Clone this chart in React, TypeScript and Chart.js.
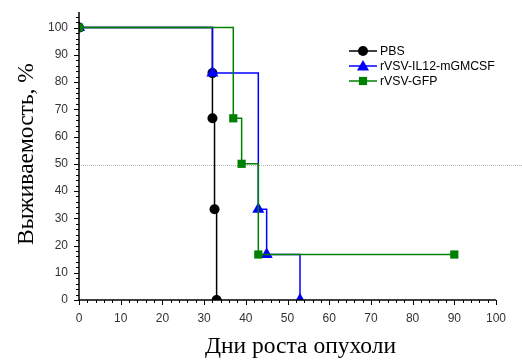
import React, { useEffect, useRef } from 'react';
import { Chart, registerables } from 'chart.js';

Chart.register(...registerables);

// ---- data ----
const seriesNames = ['PBS', 'rVSV-IL12-mGMCSF', 'rVSV-GFP'];
const pbsDays = [0, 32, 32, 32.5, 33];
const pbsSurvival = [100, 83.3, 66.7, 33.3, 0];
const il12Days = [0, 32, 43, 45, 53];
const il12Survival = [100, 83.3, 33.3, 16.7, 0];
const gfpDays = [0, 37, 39, 43, 90];
const gfpSurvival = [100, 66.7, 50, 16.7, 16.7];
const xTickLabels = [0, 10, 20, 30, 40, 50, 60, 70, 80, 90, 100];
const yTickLabels = [0, 10, 20, 30, 40, 50, 60, 70, 80, 90, 100];
const xMinorTicks = Array.from({ length: 51 }, (_, i) => i * 2);
const yMinorTicks = Array.from({ length: 53 }, (_, i) => i * 2);
const referenceLevel = 49.5;
const xTitle = 'Дни роста опухоли';
const yTitle = 'Выживаемость, %';

const colors = ['#000000', '#0000ff', '#008000'];
const pointStyles = ['circle', 'triangle', 'rect'];
const pointRadii = [5, 7, 5.8];

const toPoints = (xs: number[], ys: number[]) => xs.map((x, i) => ({ x, y: ys[i] }));

function drawMarker(ctx: CanvasRenderingContext2D, style: string, x: number, y: number, r: number, color: string) {
  ctx.save();
  ctx.fillStyle = color;
  ctx.beginPath();
  if (style === 'circle') {
    ctx.arc(x, y, r, 0, Math.PI * 2);
  } else if (style === 'triangle') {
    for (let k = 0; k < 3; k++) {
      const a = (k * 2 * Math.PI) / 3;
      const px = x + Math.sin(a) * r;
      const py = y - Math.cos(a) * r;
      if (k === 0) ctx.moveTo(px, py);
      else ctx.lineTo(px, py);
    }
    ctx.closePath();
  } else {
    const s = r * Math.SQRT1_2;
    ctx.rect(x - s, y - s, 2 * s, 2 * s);
  }
  ctx.fill();
  ctx.restore();
}

const customPlugin = {
  id: 'customDecor',
  beforeDatasetsDraw(chart: any) {
    const { ctx, chartArea, scales } = chart;
    const py = Math.round(scales.y.getPixelForValue(referenceLevel)) + 0.5;
    ctx.save();
    ctx.strokeStyle = '#b5b5b5';
    ctx.lineWidth = 1;
    ctx.setLineDash([1, 1]);
    ctx.beginPath();
    ctx.moveTo(chartArea.left, py);
    ctx.lineTo(chart.width, py);
    ctx.stroke();
    ctx.restore();
  },
  afterDatasetsDraw(chart: any) {
    const { ctx, chartArea, scales } = chart;
    const xs = scales.x;
    const ys = scales.y;
    const left = chartArea.left;
    const bottom = chartArea.bottom;
    ctx.save();
    ctx.strokeStyle = '#000';
    ctx.lineWidth = 1.5;
    ctx.beginPath();
    ctx.moveTo(left, chartArea.top - 2);
    ctx.lineTo(left, bottom);
    ctx.lineTo(xs.getPixelForValue(100), bottom);
    ctx.stroke();
    ctx.lineWidth = 1;
    ctx.beginPath();
    xMinorTicks.forEach((v) => {
      const px = Math.round(xs.getPixelForValue(v)) + 0.5;
      const len = v % 10 === 0 ? 5 : 3;
      ctx.moveTo(px, bottom);
      ctx.lineTo(px, bottom + len);
    });
    yMinorTicks.forEach((v) => {
      const py = Math.round(ys.getPixelForValue(v)) + 0.5;
      const len = v % 10 === 0 ? 5 : 3;
      ctx.moveTo(left, py);
      ctx.lineTo(left - len, py);
    });
    ctx.stroke();

    // axis titles
    ctx.fillStyle = '#000';
    ctx.font = '23.5px "Liberation Serif", "Times New Roman", serif';
    ctx.textAlign = 'center';
    ctx.textBaseline = 'middle';
    ctx.fillText(xTitle, (chartArea.left + chartArea.right) / 2 + 13, 347);
    ctx.save();
    ctx.translate(27, 154);
    ctx.rotate(-Math.PI / 2);
    ctx.fillText(yTitle, 0, 0);
    ctx.restore();

    // legend
    const lx = 349;
    const ly0 = 51;
    ctx.font = '12.3px "Liberation Sans", Arial, sans-serif';
    ctx.textAlign = 'left';
    ctx.textBaseline = 'middle';
    seriesNames.forEach((name, i) => {
      const ly = ly0 + i * 15;
      ctx.strokeStyle = colors[i];
      ctx.lineWidth = 1.5;
      ctx.beginPath();
      ctx.moveTo(lx, ly);
      ctx.lineTo(lx + 28, ly);
      ctx.stroke();
      drawMarker(ctx, pointStyles[i], lx + 14, pointStyles[i] === 'triangle' ? ly + 1 : ly, pointRadii[i], colors[i]);
      ctx.fillStyle = '#000';
      ctx.fillText(name, lx + 31, ly + 0.5);
    });
    ctx.restore();
  },
};

export default function App() {
  const ref = useRef<HTMLCanvasElement>(null);
  useEffect(() => {
    if (!ref.current) return;
    const seriesData = [
      toPoints(pbsDays, pbsSurvival),
      toPoints(il12Days, il12Survival),
      toPoints(gfpDays, gfpSurvival),
    ];
    const chart = new Chart(ref.current, {
      type: 'line',
      data: {
        datasets: seriesNames.map((name, i) => ({
          label: name,
          data: seriesData[i],
          borderColor: colors[i],
          backgroundColor: colors[i],
          borderWidth: 1.5,
          pointStyle: pointStyles[i] as any,
          pointRadius: pointRadii[i],
          pointBorderWidth: 0,
          pointHoverRadius: pointRadii[i],
          stepped: 'before' as any,
          fill: false,
          clip: 0 as any,
          order: 3 - i,
        })),
      },
      options: {
        responsive: false,
        animation: false,
        layout: { padding: { top: 14, right: 26, left: 0, bottom: 0 } },
        plugins: { legend: { display: false }, tooltip: { enabled: false } },
        scales: {
          x: {
            type: 'linear',
            min: 0,
            max: 100,
            grid: { display: false, drawTicks: false },
            border: { display: false },
            afterFit: (s: any) => {
              s.height = 60;
              s.paddingLeft = 0;
              s.paddingRight = 0;
            },
            afterBuildTicks: (s: any) => { s.ticks = xTickLabels.map((v) => ({ value: v })); },
            ticks: {
              autoSkip: false,
              maxRotation: 0,
              padding: 11,
              color: '#333',
              font: { family: '"Liberation Sans", Arial, sans-serif', size: 12 },
            },
          },
          y: {
            type: 'linear',
            min: 0,
            max: 105,
            grid: { display: false, drawTicks: false },
            border: { display: false },
            afterFit: (s: any) => {
              s.width = 79;
              s.paddingTop = 0;
              s.paddingBottom = 0;
            },
            afterBuildTicks: (s: any) => { s.ticks = yTickLabels.map((v) => ({ value: v })); },
            ticks: {
              autoSkip: false,
              padding: 11,
              color: '#333',
              font: { family: '"Liberation Sans", Arial, sans-serif', size: 12 },
            },
          },
        },
      },
      plugins: [customPlugin],
    });
    return () => chart.destroy();
  }, []);
  return (
    <div style={{ position: 'absolute', left: 0, top: 0, width: 522, height: 360, background: '#fff' }}>
      <canvas ref={ref} width={522} height={360} style={{ display: 'block' }} />
    </div>
  );
}
